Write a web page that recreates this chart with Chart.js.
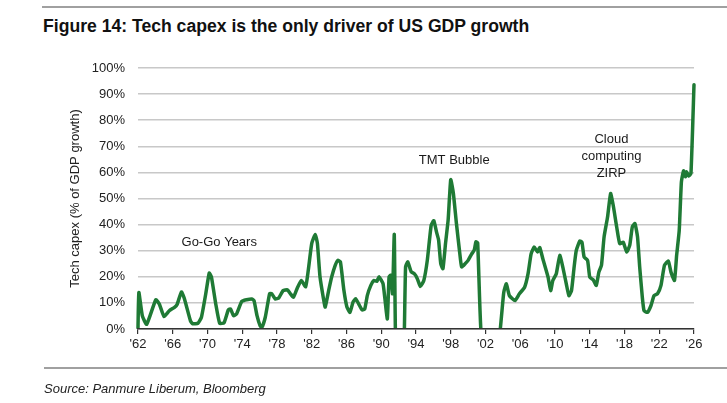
<!DOCTYPE html>
<html>
<head>
<meta charset="utf-8">
<script src="https://cdn.jsdelivr.net/npm/chart.js@4.4.1/dist/chart.umd.min.js"></script>
<style>
  body { margin: 0; background: #fff; font-family: "Liberation Sans", Arial, sans-serif; }
  #wrap { position: relative; width: 727px; height: 403px; }
  #title { position: absolute; left: 43px; top: 17px; font-size: 17.6px; line-height: 18px; font-weight: bold; color: #111; white-space: nowrap; }
  .rule { position: absolute; left: 42px; right: 0; height: 2px; background: #a0a0a0; }
  #source { position: absolute; left: 44px; top: 381px; font-size: 13px; font-style: italic; color: #222; white-space: nowrap; }
  #chartBox { position: absolute; left: 0; top: 0; width: 727px; height: 403px; }
</style>
</head>
<body>
<div id="wrap">
  <div class="rule" style="top:6px"></div>
  <div id="title">Figure 14: Tech capex is the only driver of US GDP growth</div>
  <div id="chartBox"><canvas id="lineChart"></canvas></div>
  <div class="rule" style="top:367px; left:44px"></div>
  <div id="source">Source: Panmure Liberum, Bloomberg</div>
</div>
<script>
// data (year, % of GDP growth)
const years = [
  1962.0, 1962.1, 1962.5, 1963.0, 1964.05, 1964.45, 1965.0, 1965.6, 1966.2, 1966.5,
  1967.0, 1967.35, 1968.05, 1968.3, 1968.9, 1969.3, 1969.8, 1970.2, 1970.45, 1970.95,
  1971.4, 1971.9, 1972.4, 1972.65, 1973.0, 1973.35, 1973.95, 1974.5, 1975.1, 1975.35,
  1975.7, 1976.05, 1976.25, 1976.65, 1977.15, 1977.4, 1977.8, 1978.2, 1978.7, 1979.2,
  1979.55, 1979.9, 1980.35, 1980.8, 1981.3, 1981.6, 1982.0, 1982.4, 1982.65, 1982.95,
  1983.35, 1983.55, 1983.95, 1984.3, 1984.7, 1985.0, 1985.3, 1985.7, 1986.05, 1986.4,
  1986.75, 1987.05, 1987.4, 1987.8, 1988.1, 1988.4, 1988.8, 1989.15, 1989.5, 1989.75,
  1990.2, 1990.4, 1990.7, 1990.9, 1991.1, 1991.3, 1991.5, 1991.7, 1992.2, 1992.6,
  1992.8, 1993.05, 1993.45, 1993.8, 1994.15, 1994.5, 1994.9, 1995.3, 1995.75, 1996.05,
  1996.35, 1996.6, 1996.85, 1997.1, 1997.4, 1997.7, 1998.0, 1998.3, 1998.65, 1999.0,
  1999.25, 1999.65, 2000.0, 2000.4, 2000.7, 2000.9, 2001.1, 2001.5, 2002.5, 2003.6,
  2004.1, 2004.4, 2004.75, 2005.4, 2005.9, 2006.5, 2006.9, 2007.25, 2007.6, 2008.0,
  2008.25, 2008.6, 2009.2, 2009.5, 2009.75, 2010.15, 2010.55, 2010.9, 2011.3, 2011.6,
  2011.9, 2012.2, 2012.45, 2012.85, 2013.1, 2013.35, 2013.75, 2014.0, 2014.4, 2014.75,
  2015.05, 2015.35, 2015.65, 2016.05, 2016.4, 2016.7, 2017.1, 2017.45, 2017.85, 2018.25,
  2018.6, 2018.9, 2019.2, 2019.5, 2019.75, 2020.05, 2020.25, 2020.65, 2021.05, 2021.4,
  2021.8, 2022.2, 2022.6, 2023.05, 2023.35, 2023.75, 2024.0, 2024.3, 2024.55, 2024.8,
  2025.0, 2025.15, 2025.4, 2025.65, 2026.0
];
const capex = [
  0.5, 14, 5, 1.8, 11.2, 9.6, 4.8, 7, 8.3, 9.4,
  14.2, 11.5, 3, 2, 2.2, 4.5, 13.5, 21.4, 20, 9.6,
  2.2, 2.4, 7.4, 7.7, 5.1, 5.8, 10.6, 11.2, 11.5, 10.9,
  5.1, 1.3, 0.6, 4.5, 13.5, 13.5, 11.5, 11.9, 14.7, 15,
  13.5, 12.2, 15.8, 18.6, 16.2, 22.5, 32.8, 36.2, 32.8, 20,
  11.6, 8.4, 14.8, 20, 24.4, 26.3, 25.7, 14.8, 8.4, 6.4,
  10.3, 11.6, 9.6, 7.3, 7.7, 12.9, 16.7, 18.6, 18.3, 20,
  17.4, 12.2, 3.9, 20, 20.6, 13.5, 36.2, -15, -25, -10,
  23.8, 25.7, 21.9, 21.2, 19.3, 16.3, 18.6, 26.3, 39.8, 41.5,
  37.3, 34.1, 25, 23.1, 32.8, 41.8, 57.2, 52, 40.5, 30.2,
  23.8, 25, 26.3, 28.7, 30.2, 33.4, 33, -2, -20, -3,
  14, 17.3, 12.8, 10.9, 13.5, 16, 21.2, 28.8, 31.4, 29.5,
  31.2, 26.9, 19.9, 14.7, 18.6, 21.2, 28.2, 23.7, 17.3, 12.8,
  14.7, 23.7, 30.1, 33.7, 33.3, 27.6, 26.3, 19.9, 18.8, 16.7,
  21.8, 24.4, 35.3, 42.9, 51.9, 47.4, 39.1, 32.7, 33.3, 29.5,
  32, 39.1, 40.4, 35.3, 23.7, 12.2, 7, 6.4, 9, 12.8,
  13.5, 16.7, 24.4, 26, 21.8, 18.6, 28.2, 37.8, 56.4, 60.6,
  58.3, 60.3, 58.6, 59.6, 93.6
];
const tickYears = [1962, 1966, 1970, 1974, 1978, 1982, 1986, 1990, 1994, 1998, 2002, 2006, 2010, 2014, 2018, 2022, 2026];
const yTicks = [0, 10, 20, 30, 40, 50, 60, 70, 80, 90, 100];

const notes = [
  { text: 'Go-Go Years', x: 1971.35, y: 33.1 },
  { text: 'TMT Bubble', x: 1998.4, y: 64.6 },
  { text: 'Cloud', x: 2016.5, y: 72.7 },
  { text: 'computing', x: 2016.5, y: 66.2 },
  { text: 'ZIRP', x: 2016.5, y: 59.7 }
];

const noteLabels = {
  id: 'noteLabels',
  afterDatasetsDraw(chart) {
    const { ctx, scales } = chart;
    ctx.save();
    ctx.font = '13px "Liberation Sans", Arial, sans-serif';
    ctx.fillStyle = '#1a1a1a';
    ctx.textAlign = 'center';
    ctx.textBaseline = 'middle';
    notes.forEach(n => {
      ctx.fillText(n.text, scales.x.getPixelForValue(n.x), scales.y.getPixelForValue(n.y));
    });
    ctx.restore();
  }
};

Chart.defaults.font.family = '"Liberation Sans", Arial, sans-serif';
Chart.defaults.font.size = 13;
Chart.defaults.color = '#222';

const ctx = document.getElementById('lineChart').getContext('2d');
const myChart = new Chart(ctx, {
  type: 'line',
  data: {
    datasets: [{
      label: 'Tech capex',
      data: years.map((yr, i) => ({ x: yr, y: capex[i] })),
      borderColor: '#1f7a35',
      borderWidth: 3.5,
      pointRadius: 0,
      tension: 0.15,
      borderJoinStyle: 'round',
      borderCapStyle: 'round',
      clip: { left: 5, right: 5, top: 5, bottom: 0 }
    }]
  },
  options: {
    responsive: true,
    maintainAspectRatio: false,
    animation: false,
    layout: { padding: { left: 68, right: 33, top: 68, bottom: 29 } },
    plugins: { legend: { display: false }, tooltip: { enabled: false } },
    scales: {
      x: {
        type: 'linear',
        min: 1962,
        max: 2026,
        afterBuildTicks: s => { s.ticks = tickYears.map(v => ({ value: v })); },
        afterFit: s => { s.height = 45; },
        ticks: {
          autoSkip: false,
          maxRotation: 0,
          padding: 3,
          color: '#222',
          callback: v => "'" + String(v).slice(2)
        },
        grid: { drawOnChartArea: false, drawTicks: true, tickLength: 5, color: '#333', lineWidth: 1.2 },
        border: { display: true, color: '#333', width: 1.5, z: 1 }
      },
      y: {
        min: 0,
        max: 100,
        afterBuildTicks: s => { s.ticks = yTicks.map(v => ({ value: v })); },
        afterFit: s => { s.width = 70; },
        ticks: { padding: 13, color: '#222', callback: v => v + '%' },
        grid: { drawTicks: false, color: '#c8c8c8', lineWidth: 1.5 },
        border: { display: false },
        title: { display: true, text: 'Tech capex (% of GDP growth)', color: '#222', font: { size: 13 }, padding: 0 }
      }
    }
  },
  plugins: [noteLabels]
});
</script>
</body>
</html>
